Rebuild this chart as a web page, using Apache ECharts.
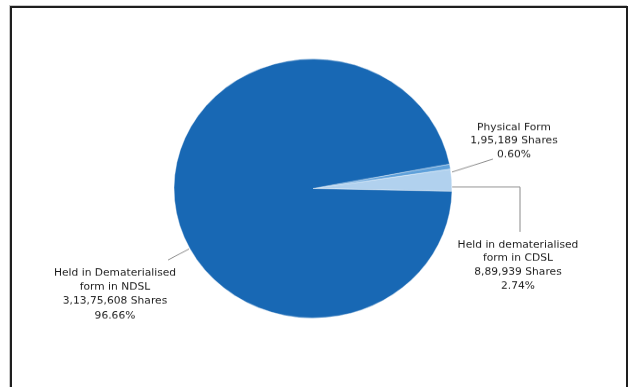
<!DOCTYPE html>
<html>
<head>
<meta charset="utf-8">
<script src="https://cdn.jsdelivr.net/npm/echarts@6/dist/echarts.min.js"></script>
<style>
html,body{margin:0;padding:0;background:#fff;width:628px;height:387px;overflow:hidden;}
#frame{position:absolute;left:10px;top:6px;width:614px;height:420px;border:2px solid #1e1e1e;box-shadow:-1px -1px 0 #c8c8c8;}
#chart{position:absolute;left:0;top:0;width:628px;height:387px;transform:scaleY(0.932);transform-origin:50% 188.5px;}
</style>
</head>
<body>
<div id="frame"></div>
<div id="chart"></div>
<script>
// Data
const categories = [
  'Held in dematerialised form in CDSL',
  'Physical Form',
  'Held in Dematerialised form in NDSL'
];
const shares = [889939, 195189, 31375608];
const shareLabels = ['8,89,939', '1,95,189', '3,13,75,608'];
const percents = ['2.74%', '0.60%', '96.66%'];
const labelTexts = [
  'Held in dematerialised\nform in CDSL\n8,89,939 Shares\n2.74%',
  'Physical Form\n1,95,189 Shares\n0.60%',
  'Held in Dematerialised\nform in NDSL\n3,13,75,608 Shares\n96.66%'
];
const colors = ['#B1D1EE', '#5EA0DA', '#1868B4'];

const chart = echarts.init(document.getElementById('chart'), null, {renderer: 'canvas'});

// label placement (chart coordinates, before vertical squash)
const labelPos = [
  {x: 518, y: 271, lh: 14.7, line: [[452, 186.9], [520, 186.9], [520, 235]]},
  {x: 514, y: 137.5, lh: 14.7, line: [[452, 170.8], [493, 156.9]]},
  {x: 115, y: 302, lh: 15.4, line: [[189, 253.4], [168, 265.2]]}
];

chart.setOption({
  animation: false,
  series: [{
    type: 'pie',
    center: [313, 188.5],
    radius: [0, 139],
    startAngle: -1.2,
    clockwise: false,
    avoidLabelOverlap: false,
    data: categories.map((c, i) => ({
      name: c,
      value: shares[i],
      itemStyle: {color: colors[i]},
      label: {formatter: labelTexts[i], lineHeight: labelPos[i].lh}
    })),
    itemStyle: {borderColor: '#fff', borderWidth: 0.4},
    label: {
      show: true,
      position: 'outside',
      fontFamily: 'DejaVu Sans',
      fontSize: 10.7,
      color: '#1a1a1a',
      align: 'center',
      verticalAlign: 'middle'
    },
    labelLine: {show: true, lineStyle: {color: '#8a8a8a', width: 1}},
    labelLayout: function (params) {
      const p = labelPos[params.dataIndex];
      return {
        x: p.x, y: p.y, align: 'center', verticalAlign: 'middle',
        labelLinePoints: p.line
      };
    },
    emphasis: {disabled: true}
  }]
});
</script>
</body>
</html>
